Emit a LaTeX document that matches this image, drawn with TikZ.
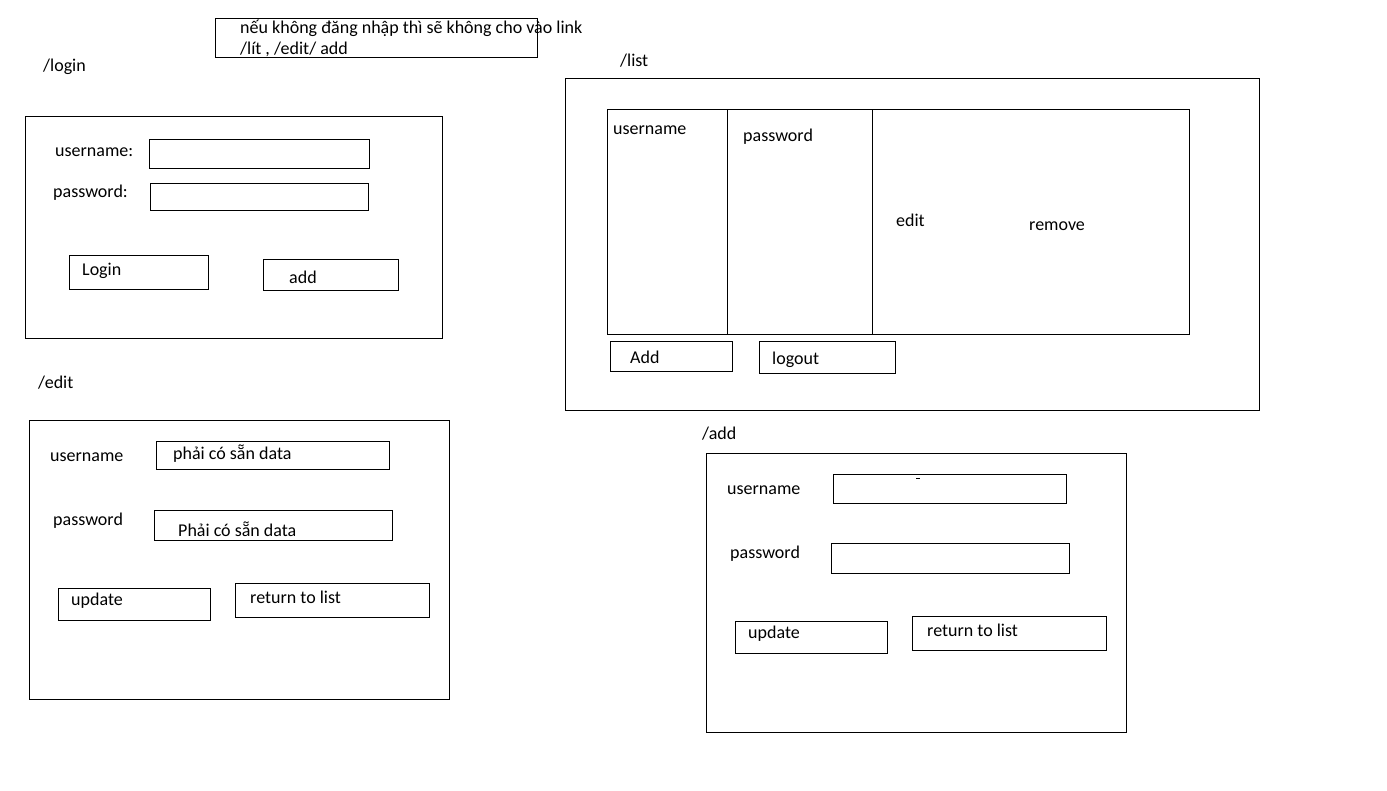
\documentclass[tikz,border=0pt]{standalone}
\usepackage{fontspec}
\setmainfont{Carlito}
\begin{document}
\begin{tikzpicture}[x=1pt,y=-1pt,
  frame/.style={draw=black,line width=1pt},
  lbl/.style={anchor=west,inner sep=0pt,text height=12.6pt,text depth=4pt,font=\fontsize{18}{21}\selectfont}]
\useasboundingbox[fill=white] (0,0) rectangle (1387,790);
% note
\draw[frame] (215,18) rectangle (537,57);
\node[lbl] (note1) at (240,29) {nếu không đăng nhập thì sẽ không cho vào link};
\node[lbl] (note2) at (240,50) {/lít , /edit/ add};
% login
\node[lbl] (tlogin) at (43,67) {/login};
\draw[frame] (25,116) rectangle (442,338);
\node[lbl] (lu) at (55,152) {username:};
\draw[frame] (149,139) rectangle (369,168);
\node[lbl] (lp) at (53,193) {password:};
\draw[frame] (150,183) rectangle (368,210);
\draw[frame] (69,255) rectangle (208,289);
\node[lbl] (lbtn) at (82,271) {Login};
\draw[frame] (263,259) rectangle (398,290);
\node[lbl] (abtn) at (289,279) {add};
% edit
\node[lbl] (tedit) at (38,384) {/edit};
\draw[frame] (29,420) rectangle (449,699);
\node[lbl] (eu) at (50,457) {username};
\draw[frame] (156,441) rectangle (389,469);
\node[lbl] (eud) at (173,455) {phải có sẵn data};
\node[lbl] (ep) at (53,521) {password};
\draw[frame] (154,510) rectangle (392,540);
\node[lbl] (epd) at (178,532) {Phải có sẵn data};
\draw[frame] (58,588) rectangle (210,620);
\node[lbl] (eupd) at (71,601) {update};
\draw[frame] (235,583) rectangle (429,617);
\node[lbl] (eret) at (250,599) {return to list};
% list
\node[lbl] (tlist) at (620,62) {/list};
\draw[frame] (565,78) rectangle (1259,410);
\draw[frame] (607,109) rectangle (1189,334);
\draw[frame] (727,109) -- (727,334);
\draw[frame] (872,109) -- (872,334);
\node[lbl] (hu) at (613,130) {username};
\node[lbl] (hp) at (743,137) {password};
\node[lbl] (hedit) at (896,222) {edit};
\node[lbl] (hrem) at (1029,226) {remove};
\draw[frame] (610,341) rectangle (732,371);
\node[lbl] (ladd) at (630,359) {Add};
\draw[frame] (759,341) rectangle (895,373);
\node[lbl] (lout) at (772,360) {logout};
% add
\node[lbl] (tadd) at (702,435) {/add};
\draw[frame] (706,453) rectangle (1126,732);
\node[lbl] (au) at (727,490) {username};
\draw[frame] (833,474) rectangle (1066,503);
\draw[line width=0.8pt] (916,478) -- (920,478);
\node[lbl] (ap) at (730,554) {password};
\draw[frame] (831,543) rectangle (1069,573);
\draw[frame] (735,621) rectangle (887,653);
\node[lbl] (aupd) at (748,634) {update};
\draw[frame] (912,616) rectangle (1106,650);
\node[lbl] (aret) at (927,632) {return to list};
\end{tikzpicture}
\end{document}
